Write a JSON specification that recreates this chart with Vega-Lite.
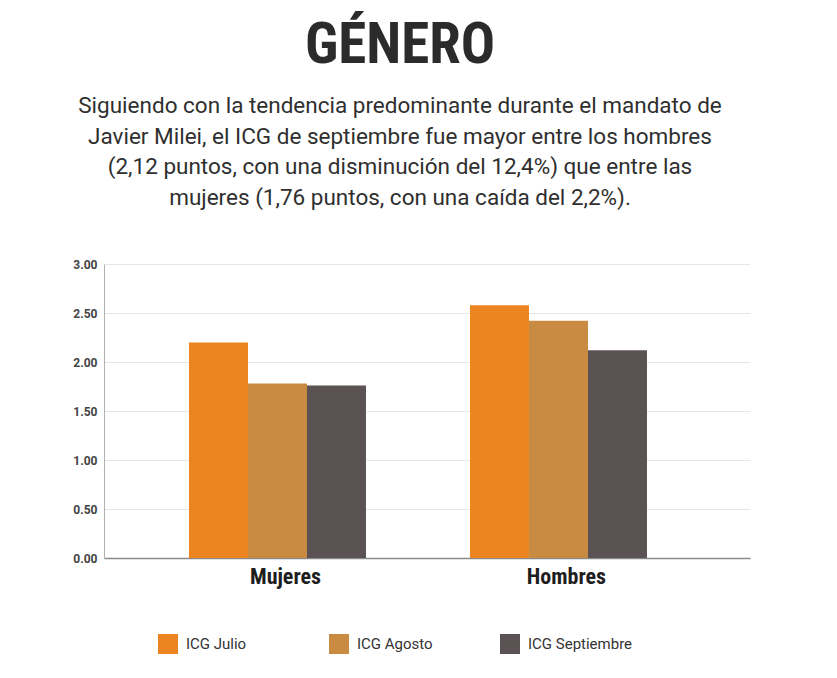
{
  "$schema": "https://vega.github.io/schema/vega-lite/v6.json",
  "width": 646,
  "height": 294,
  "autosize": {"type": "none"},
  "padding": {"left": 104, "top": 264, "right": 87, "bottom": 120},
  "background": "white",
  "title": {
    "text": "GÉNERO",
    "subtitle": [
      "Siguiendo con la tendencia predominante durante el mandato de",
      "Javier Milei, el ICG de septiembre fue mayor entre los hombres",
      "(2,12 puntos, con una disminución del 12,4%) que entre las",
      "mujeres (1,76 puntos, con una caída del 2,2%)."
    ],
    "anchor": "middle",
    "frame": "group",
    "dx": -27,
    "offset": 48,
    "font": "Roboto Condensed, Liberation Sans Narrow, DejaVu Sans Condensed, Roboto",
    "fontSize": 57,
    "fontWeight": "bold",
    "color": "#2b2b2b",
    "subtitleFont": "Roboto",
    "subtitleFontSize": 22.5,
    "subtitleColor": "#2f2f2f",
    "subtitleLineHeight": 30.5,
    "subtitlePadding": 20
  },
  "data": {
    "values": [
      {"genero": "Mujeres", "serie": "ICG Julio", "valor": 2.20},
      {"genero": "Mujeres", "serie": "ICG Agosto", "valor": 1.78},
      {"genero": "Mujeres", "serie": "ICG Septiembre", "valor": 1.76},
      {"genero": "Hombres", "serie": "ICG Julio", "valor": 2.58},
      {"genero": "Hombres", "serie": "ICG Agosto", "valor": 2.42},
      {"genero": "Hombres", "serie": "ICG Septiembre", "valor": 2.12}
    ]
  },
  "mark": {"type": "bar", "strokeWidth": 0},
  "encoding": {
    "x": {
      "field": "genero",
      "type": "nominal",
      "sort": ["Mujeres", "Hombres"],
      "scale": {"paddingInner": 0.37, "paddingOuter": 0.3345, "align": 0.452},
      "axis": {
        "title": null,
        "labelAngle": 0,
        "labelFont": "Roboto Condensed, Roboto",
        "labelFontSize": 22,
        "labelFontWeight": "bold",
        "labelColor": "#1e1e1e",
        "labelOffset": 8,
        "ticks": false,
        "labelPadding": 8,
        "domainColor": "#8a8a8a",
        "domainWidth": 1.5,
        "grid": false
      }
    },
    "xOffset": {
      "field": "serie",
      "type": "nominal",
      "sort": ["ICG Julio", "ICG Agosto", "ICG Septiembre"],
      "scale": {"paddingInner": 0, "paddingOuter": 0}
    },
    "y": {
      "field": "valor",
      "type": "quantitative",
      "scale": {"domain": [0, 3]},
      "axis": {
        "title": null,
        "values": [0, 0.5, 1, 1.5, 2, 2.5, 3],
        "format": ".2f",
        "labelFont": "Roboto",
        "labelFontSize": 12,
        "labelFontWeight": "bold",
        "labelColor": "#444444",
        "ticks": false,
        "labelPadding": 7,
        "domainColor": "#b0b0b0",
        "gridColor": "#e6e6e6"
      }
    },
    "color": {
      "field": "serie",
      "type": "nominal",
      "sort": ["ICG Julio", "ICG Agosto", "ICG Septiembre"],
      "scale": {
        "domain": ["ICG Julio", "ICG Agosto", "ICG Septiembre"],
        "range": ["#EC8520", "#C98A41", "#5B5253"]
      },
      "legend": {
        "title": null,
        "orient": "none",
        "legendX": 54,
        "legendY": 370,
        "direction": "horizontal",
        "columns": 3,
        "gridAlign": "all",
        "columnPadding": 38,
        "symbolType": "square",
        "symbolSize": 400,
        "symbolStrokeWidth": 0,
        "labelFont": "Roboto",
        "labelFontSize": 15,
        "labelColor": "#333333",
        "labelOffset": 8
      }
    }
  },
  "config": {
    "view": {"stroke": null}
  }
}
